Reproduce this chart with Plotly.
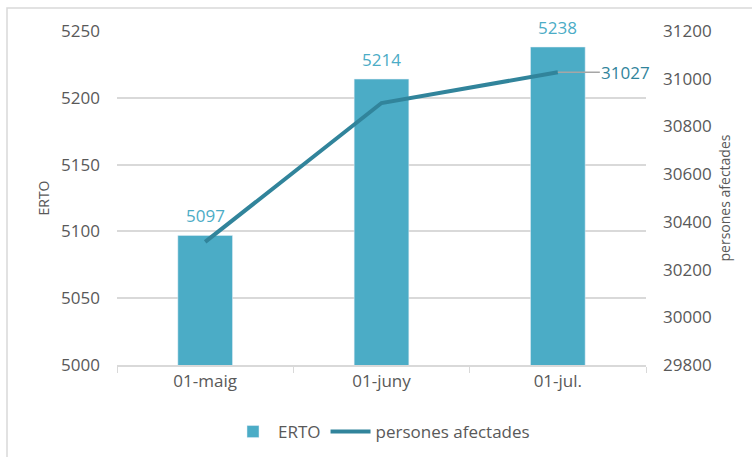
import plotly.graph_objects as go

categories = ["01-maig", "01-juny", "01-jul."]
erto = [5097, 5214, 5238]
persones = [30316, 30898, 31027]

BAR_COLOR = "#4BACC6"
LINE_COLOR = "#31849B"
GRID = "#D9D9D9"
TXT = "#595959"
FONT = "Open Sans"

fig = go.Figure()
fig.add_trace(go.Bar(
    x=categories, y=erto, name="ERTO", marker_color=BAR_COLOR, width=0.31,
    yaxis="y",
))
fig.add_trace(go.Scatter(
    x=categories, y=persones, name="persones afectades", mode="lines",
    line=dict(color=LINE_COLOR, width=4), yaxis="y2",
))
for c, v in zip(categories, erto):
    fig.add_annotation(x=c, y=v, xref="x", yref="y", text=str(v), showarrow=False,
                       yanchor="middle", yshift=20,
                       font=dict(color=BAR_COLOR, size=17, family=FONT))
fig.add_annotation(
    x=categories[-1], y=persones[-1], xref="x", yref="y2", yanchor="middle",
    text=str(persones[-1]), showarrow=True, arrowhead=0, arrowcolor="#A6A6A6",
    arrowwidth=1.5, ax=68, ay=0, xanchor="center",
    font=dict(color=LINE_COLOR, size=17, family=FONT),
)

W, H = 752, 457
L, R, T, B = 117, 106, 31, 92
pw, ph = W - L - R, H - T - B

def px_x(px):
    return (px - L) / pw

def px_y(py):
    return (H - B - py) / ph

fig.add_shape(type="rect", xref="paper", yref="paper",
              x0=px_x(7), x1=px_x(770), y0=px_y(480), y1=px_y(8),
              line=dict(color=GRID, width=1.5), layer="below")

fig.update_layout(
    width=W, height=H, margin=dict(l=L, r=R, t=T, b=B, autoexpand=False),
    plot_bgcolor="white", paper_bgcolor="white",
    font=dict(family=FONT, color=TXT, size=17),
    bargap=0.69,
    showlegend=True,
    legend=dict(orientation="h", x=0.5, xanchor="center", y=px_y(432), yanchor="middle",
                itemwidth=40, font=dict(size=17, color=TXT, family=FONT)),
    xaxis=dict(range=[-0.5, len(categories) - 0.5], showgrid=False, showline=True,
               linecolor=GRID, linewidth=1.5,
               ticks="outside", tickson="boundaries", tickcolor=GRID, ticklen=6,
               tickfont=dict(size=17, color=TXT), automargin=False),
    yaxis=dict(range=[5000, 5250], dtick=50, showgrid=True, gridcolor=GRID,
               gridwidth=1.5, zeroline=False, showline=False, automargin=False,
               title=dict(text="ERTO", font=dict(size=14, color=TXT), standoff=8),
               tickfont=dict(size=17, color=TXT), ticklabelstandoff=16),
    yaxis2=dict(range=[29800, 31200], dtick=200, overlaying="y", side="right",
                showgrid=False, zeroline=False, showline=False, automargin=False,
                tickformat="d",
                title=dict(text="persones afectades", font=dict(size=14, color=TXT), standoff=9),
                tickfont=dict(size=17, color=TXT), ticklabelstandoff=16),
)

fig.write_html("out.html", config={"displayModeBar": False},
               post_script="document.body.style.margin='0';document.body.style.overflow='hidden';")
